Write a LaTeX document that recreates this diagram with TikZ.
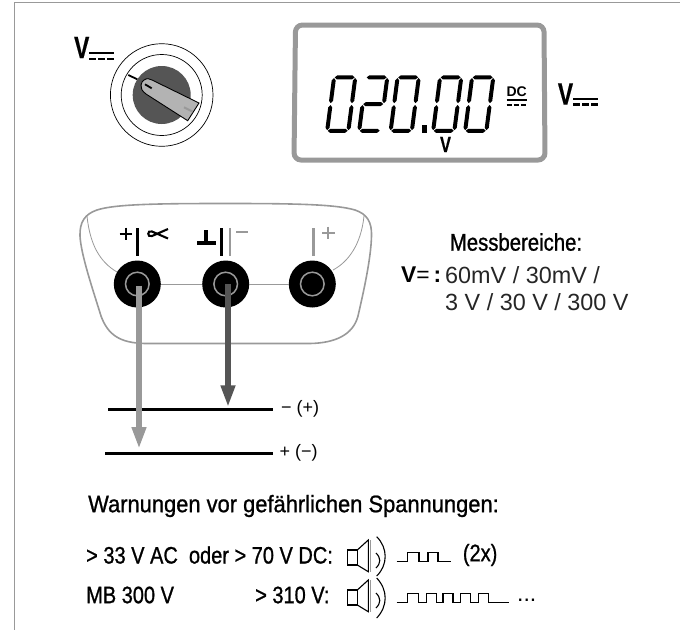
\documentclass[tikz,border=0pt]{standalone}
\usepackage{fontspec}
\setmainfont{Liberation Sans}
\newfontfamily\cond[FakeStretch=0.84,FakeBold=0.9]{Liberation Sans}
\newfontfamily\condw[FakeStretch=0.92,FakeBold=0.9]{Liberation Sans}
\newfontfamily\bcond[FakeStretch=0.74,FakeBold=0.4]{Liberation Sans}
\newfontfamily\light{Liberation Sans}
\usetikzlibrary{arrows.meta}
\definecolor{mg}{HTML}{999999}
\definecolor{dg}{HTML}{555555}
\definecolor{pg}{HTML}{B3B3B3}
\tikzset{
 x=1pt,y=-1pt,
 frame/.style={mg,line width=1.2},
 txt/.style={anchor=west,inner sep=0,font=\cond\fontsize{23.8}{24}\selectfont},
 small/.style={anchor=west,inner sep=0,font=\light\fontsize{18}{18}\selectfont},
 val/.style={anchor=west,inner sep=0,font=\light\fontsize{23.4}{24}\selectfont,text=black!85},
 vlabel/.style={anchor=center,inner sep=0,font=\bcond\bfseries\fontsize{31}{31}\selectfont},
 rail/.style={line width=2.8},
 jack/.style={circle,fill=black,minimum size=47,inner sep=0},
 ringc/.style={mg,line width=1.5},
 tick/.style={line width=2.6},
 gtick/.style={mg,line width=2.6},
 wire/.style={line width=5.5,-{Triangle[width=13.5,length=22,sep=0]}},
 snd/.style={line width=1.1},
 pulse/.style={line width=1.3},
}
% seven-segment pieces
\newcommand{\hs}[3]{\fill (#1,#3)--(#1+2.4,#3+2)--(#2-2.4,#3+2)--(#2,#3)--(#2-2.4,#3-2)--(#1+2.4,#3-2)--cycle;}
\newcommand{\vs}[3]{\fill (#1,#2)--(#1+2,#2+2.4)--(#1+2,#3-2.4)--(#1,#3)--(#1-2,#3-2.4)--(#1-2,#2+2.4)--cycle;}
\newcommand{\lcdzero}[1]{\begin{scope}[shift={(#1pt,-132.7pt)},x=1pt,y={(0.13pt,1pt)}]
 \hs{2.5}{22.5}{1.9}\hs{2.5}{22.5}{55.3}\vs{1.9}{2.5}{27.7}\vs{1.9}{29.5}{54.7}\vs{23.1}{2.5}{27.7}\vs{23.1}{29.5}{54.7}
\end{scope}}
\newcommand{\lcdtwo}[1]{\begin{scope}[shift={(#1pt,-132.7pt)},x=1pt,y={(0.13pt,1pt)}]
 \hs{2.5}{22.5}{1.9}\hs{2.5}{22.5}{55.3}\hs{2.5}{22.5}{28.6}\vs{1.9}{2.5}{27.7}\vs{23.1}{29.5}{54.7}
\end{scope}}
\newcommand{\dcsym}[5]{% x1 x2 y1 y2 dash
 \draw[line width=2.2] (#1,#3)--(#2,#3);
 \draw[line width=2.2,dash pattern=on #5 off 2] (#1,#4)--(#2,#4);}
\begin{document}
\begin{tikzpicture}
\useasboundingbox (0,0) rectangle (680,630);
% page frame
\coordinate (fa) at (680,2.5); \coordinate (fb) at (14.5,2.5); \coordinate (fc) at (14.5,630);
\draw[frame] (fa)--(fb)--(fc);
% rotary switch
\coordinate (knob) at (161.7,95);
\draw[line width=0.7] (knob) circle[radius=51.3];
\draw[line width=0.7] (knob) circle[radius=40.5];
\fill[dg] (knob) circle[radius=29];
\draw[line width=1.8] (128.3,75)--(137.3,79.3);
\draw[fill=pg,line width=0.9] (144,80) .. controls (147,78) and (149,78.5) .. (152,80) -- (199,103) -- (187.7,120.7) -- (146,94) .. controls (142,91) and (140.5,88) .. (141,85) .. controls (141.5,82.5) and (142.5,81) .. (144,80) -- cycle;
\draw[line width=1.8] (145,84.3)--(151.7,88.3);
\draw[line width=2,mg] (184,107.3)--(192.7,111.7);
\node[vlabel] (v1) at (81.7,47.5) {V};
\dcsym{89}{114}{53.3}{59}{7}
% display
\draw[mg,line width=5,rounded corners=7] (295.5,25) -- (544,25) -- (545,160) -- (294,160) -- cycle;
\lcdzero{325}\lcdtwo{357}\lcdzero{388.5}\lcdzero{431}\lcdzero{463}
\fill (422,125) rectangle (427,132.7);
\node[anchor=center,inner sep=0,font=\light\bfseries\fontsize{14}{14}\selectfont] (dc) at (516.7,91.5) {DC};
\dcsym{506.5}{527}{100}{105}{5.2}
\node[anchor=center,inner sep=0,font=\bcond\bfseries\fontsize{22}{22}\selectfont] (v2) at (445.5,144.5) {V};
\node[vlabel] (v3) at (565.5,94) {V};
\dcsym{573}{598}{99.3}{104.5}{7}
% socket panel
\draw[mg,line width=1.6] (225.5,203.5) .. controls (290,203.5) and (335,204) .. (355,210) .. controls (367,214) and (372,222) .. (371.5,236) .. controls (371,258) and (364,290) .. (358,316) .. controls (353,335) and (335,343) .. (310,343.5) -- (145,343.5) .. controls (120,343) and (108,335) .. (101,316) .. controls (93,290) and (81,255) .. (80,236) .. controls (79.5,222) and (85,214) .. (97,210) .. controls (115,204) and (160,203.5) .. (225.5,203.5) -- cycle;
\draw[mg,line width=0.8] (87,216) .. controls (90,245) and (100,262) .. (117,272);
\draw[mg,line width=0.8] (364,216) .. controls (361,245) and (348,262) .. (333,270);
\node[jack] (j1) at (137.3,284) {};
\node[jack] (j2) at (225.7,284) {};
\node[jack] (j3) at (312.3,284) {};
\draw[mg,line width=0.9] (j1)--(j2);
\draw[mg,line width=0.9] (j2)--(j3);
\draw[ringc] (j1) circle[radius=11.8];
\draw[ringc] (j2) circle[radius=11.8];
\draw[ringc] (j3) circle[radius=11.8];
% symbols over sockets
\draw[tick] (137.3,228)--(137.3,256);
\draw[line width=2] (119.5,233.5)--(131.5,233.5) (125.5,227.5)--(125.5,239.5);
\draw[line width=2.1] (168,229) -- (152,236) .. controls (147,238) and (147,229.5) .. (152,231.5) -- (168,238.5);
\draw[line width=3.2] (197,243)--(215.7,243) (206,230)--(206,243);
\draw[tick] (221.7,228)--(221.7,256);
\draw[gtick] (230,228)--(230,256);
\draw[mg,line width=1.9] (236,231.7)--(247.5,231.7);
\draw[gtick] (313.3,228)--(313.3,256);
\draw[mg,line width=1.9] (322,232.7)--(334.5,232.7) (328.3,226.5)--(328.3,239);
% rails and wires
\coordinate (r1a) at (108,409.3); \coordinate (r1b) at (272.7,409.3);
\coordinate (r2a) at (105,453.3); \coordinate (r2b) at (272.7,453.3);
\draw[rail] (r1a)--(r1b);
\draw[rail] (r2a)--(r2b);
\coordinate (t1) at (139,449); \coordinate (t2) at (228,407.3);
\coordinate (s1) at (139,285.5); \coordinate (s2) at (228,284);
\draw[wire,mg] (s1)--(t1);
\draw[wire,dg] (s2)--(t2);
\node[small] (l1) at (281,409) {− (+)};
\node[small] (l2) at (279.5,453) {+ (−)};
% ranges
\node[anchor=center,inner sep=0,font=\cond\fontsize{24.2}{24}\selectfont] (mb) at (516,242) {Messbereiche:};
\node[anchor=west,inner sep=0,font=\light\fontsize{22.8}{24}\selectfont] (veq) at (401,275) {\textbf{V}=\,\textbf{:}};
\node[val] (r1) at (445,275) {60mV / 30mV /};
\node[val] (r2) at (445,301.7) {3 V / 30 V / 300 V};
% warnings
\node[txt,font=\condw\fontsize{23.8}{24}\selectfont] (w0) at (88,506) {Warnungen vor gefährlichen Spannungen:};
\node[txt] (w1) at (86,555) {> 33 V AC\ \ oder > 70 V DC:};
\node[txt] (w2) at (86,595) {MB 300 V};
\node[txt] (w3) at (255,595) {> 310 V:};
\node[txt] (w4) at (462.7,555) {(2x)};
\node[txt,font=\light\fontsize{23}{24}\selectfont] (w5) at (517,600) {...};
% speaker 1
\draw[snd] (347.3,550) rectangle (357.3,565);
\draw[snd] (357.3,550)--(368.3,540)--(368.3,571.7)--(357.3,565);
\draw[mg,line width=1] (370,540)--(370,571.7);
\draw[snd] (376,553) .. controls (381,558) and (381,563) .. (376,568);
\draw[snd] (376.7,536.7) .. controls (388,548) and (388,565) .. (376.7,576);
% speaker 2
\draw[snd] (347.3,590) rectangle (357.3,605);
\draw[snd] (357.3,590)--(368.3,580)--(368.3,611.7)--(357.3,605);
\draw[mg,line width=1] (370,580)--(370,611.7);
\draw[snd] (376,593) .. controls (381,598) and (381,603) .. (376,608);
\draw[snd] (376.7,578) .. controls (388,590) and (388,606) .. (376.7,618);
% pulses
\draw[pulse] (396.7,561.7)-|(407.3,552.3)-|(419,561.7)-|(428,552.3)-|(438,561.7)--(450.7,561.7);
\draw[pulse] (396.7,602.7)-|(407.3,593.3)-|(418.3,602.7)-|(426.7,593.3)-|(436.7,602.7)-|(443,593.3)-|(453,602.7)-|(460.7,593.3)-|(470.7,602.7)-|(478.3,593.3)-|(488.3,602.7)--(509.3,602.7);
\end{tikzpicture}
\end{document}
